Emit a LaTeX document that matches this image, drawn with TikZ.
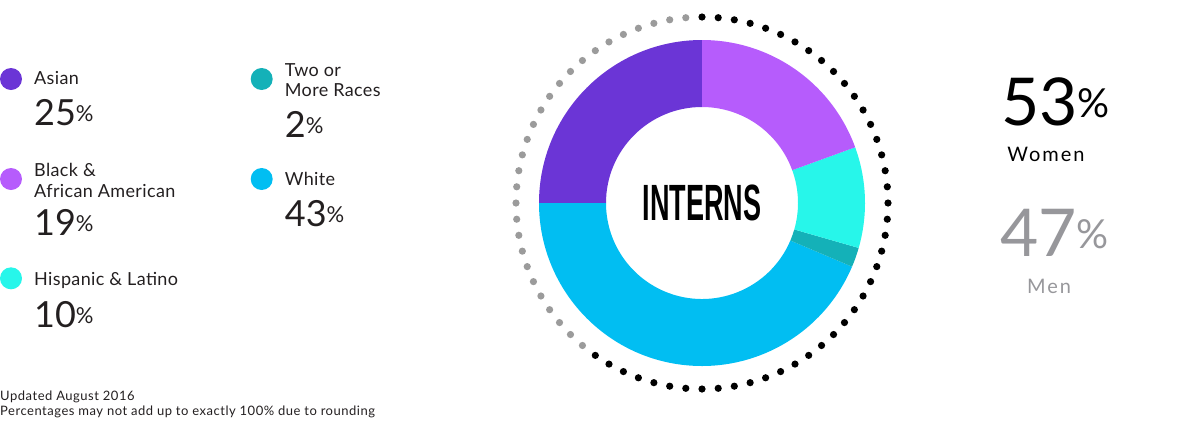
\documentclass[tikz,border=0pt]{standalone}
\usepackage{fontspec}
\setmainfont{Lato}
\newfontfamily\condfont[FakeStretch=0.53]{Liberation Sans}

\definecolor{ink}{HTML}{231F20}
\definecolor{asian}{HTML}{6B35D6}
\definecolor{blackaa}{HTML}{B65CFC}
\definecolor{hispanic}{HTML}{27F6EA}
\definecolor{mixed}{HTML}{14B1B8}
\definecolor{white}{HTML}{01BEF2}
\definecolor{dotgray}{HTML}{9B9B9B}
\definecolor{mengray}{HTML}{97979B}

\tikzset{
  legdot/.style={circle, inner sep=0pt, minimum size=22pt},
  legtext/.style={anchor=base west, inner sep=0pt, align=left, text=ink,
    font=\fontsize{18}{20.3}\selectfont\addfontfeature{LetterSpace=2}},
  pcttext/.style={anchor=base west, inner sep=0pt, text=ink,
    font=\fontsize{36}{36}\selectfont},
  bigtext/.style={anchor=base west, inner sep=0pt,
    font=\fontsize{66}{66}\selectfont},
  sextext/.style={anchor=base, inner sep=0pt,
    font=\fontsize{20}{20}\selectfont\addfontfeature{LetterSpace=10}}
}

% small raised percent sign
\newcommand\pcsign[2]{\raisebox{#2}{\fontsize{#1}{#1}\selectfont\%}}

\newcommand\ringpart[3]{%
  \fill[#1] (#2:163) arc[start angle=#2, end angle=#3, radius=163]
    -- (#3:96) arc[start angle=#3, end angle=#2, radius=96] -- cycle;}

\begin{document}
\begin{tikzpicture}[x=1pt, y=1pt]
  \useasboundingbox (0,0) rectangle (1200,-440);

  % legend, left column
  \node[legdot, fill=asian] (asiandot) at (11,-79) {};
  \node[legtext] (asian) at (34,-84.3) {Asian};
  \node[pcttext] (asianpct) at (34,-125) {25\pcsign{22}{4pt}};

  \node[legdot, fill=blackaa] (blackdot) at (11,-179) {};
  \node[legtext] (black) at (34,-197) {Black \&\\African American};
  \node[pcttext] (blackpct) at (34,-235.7) {19\pcsign{22}{4pt}};

  \node[legdot, fill=hispanic] (hispdot) at (11,-278.3) {};
  \node[legtext] (hisp) at (34,-285) {Hispanic \& Latino};
  \node[pcttext] (hisppct) at (34,-327.7) {10\pcsign{22}{4pt}};

  % legend, right column
  \node[legdot, fill=mixed] (mixeddot) at (261.7,-79) {};
  \node[legtext] (mixed) at (284.7,-96.7) {Two or\\More Races};
  \node[pcttext] (mixedpct) at (284.7,-137.3) {2\pcsign{22}{4pt}};

  \node[legdot, fill=white] (whitedot) at (261.7,-179) {};
  \node[legtext] (white) at (284.7,-185) {White};
  \node[pcttext] (whitepct) at (284.7,-226.7) {43\pcsign{22}{4pt}};

  % donut
  \coordinate (C) at (702,-203);
  \begin{scope}[shift={(C)}]
    \ringpart{asian}{90}{180}
    \ringpart{white}{180}{337}
    \ringpart{mixed}{337}{344}
    \ringpart{hispanic}{344}{380}
    \ringpart{blackaa}{20}{90}
    \foreach \a in {95,100,...,230}
      \fill[dotgray] (\a:186) circle[radius=3.6];
    \foreach \a in {235,240,...,450}
      \fill[black] (\a:186) circle[radius=3.6];
  \end{scope}
  \node[font=\condfont\bfseries\fontsize{51}{51}\selectfont] (interns) at (C) {INTERNS};

  % women / men
  \node[bigtext, text=black] (womenpct) at (1001,-125) {53\pcsign{40}{8pt}};
  \node[sextext, text=black] (women) at (1046,-161.7) {Women};
  \node[bigtext, text=mengray] (menpct) at (1000,-256.7) {47\pcsign{40}{8pt}};
  \node[sextext, text=mengray] (men) at (1049,-293.3) {Men};

  % footer
  \node[anchor=base west, inner sep=0pt, align=left, text=ink,
    font=\fontsize{13}{15}\selectfont\addfontfeature{LetterSpace=4}] (note) at (0,-415.7)
    {Updated August 2016\\Percentages may not add up to exactly 100\% due to rounding};
\end{tikzpicture}
\end{document}
